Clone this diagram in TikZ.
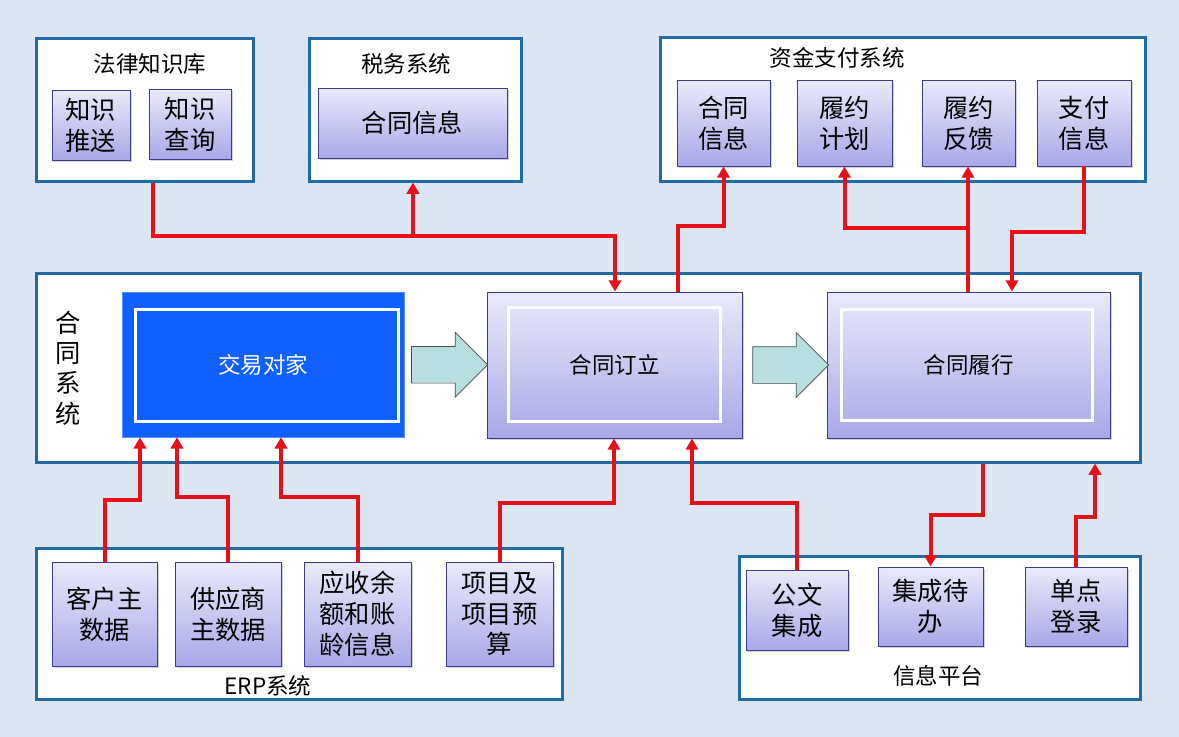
\documentclass[tikz,border=0pt]{standalone}
\usepackage{fontspec}
\setmainfont{Noto Sans CJK SC}
\usetikzlibrary{arrows.meta, positioning, shapes.arrows, shadows, calc}
\newdimen\pxu \pxu=0.025cm
\definecolor{bgblue}{HTML}{DCE6F2}
\definecolor{frameblue}{HTML}{1F6BA8}
\definecolor{itemtop}{HTML}{EAEAFA}
\definecolor{itembot}{HTML}{A9A7E8}
\definecolor{itemedge}{HTML}{3C3C8C}
\definecolor{partyblue}{HTML}{1060FF}
\definecolor{flowteal}{HTML}{B8DFE0}
\definecolor{linkred}{HTML}{E5101A}

\begin{document}
\begin{tikzpicture}[
  x=1\pxu, y=-1\pxu,
  sysframe/.style={draw=frameblue, line width=3\pxu, fill=white, inner sep=0pt},
  title/.style={font=\fontsize{16}{19}\selectfont},
  item/.style={draw=itemedge, line width=0.7pt, top color=itemtop, bottom color=itembot,
               align=center, inner sep=0pt, font=\fontsize{18}{22}\selectfont,
               drop shadow={opacity=0.35, shadow xshift=1.5pt, shadow yshift=-1.5pt}},
  stage/.style={item, font=\fontsize{16}{19}\selectfont},
  innerframe/.style={draw=white, line width=3\pxu},
  flow/.style={single arrow, draw=black!70, line width=0.5pt, fill=flowteal,
               minimum height=76\pxu, minimum width=64\pxu, inner xsep=0pt, inner ysep=18\pxu,
               single arrow head extend=14\pxu},
  link/.style={draw=linkred, line width=4\pxu, -{Triangle[length=8pt, width=8.8pt]}}
]
  \useasboundingbox[fill=bgblue] (0,0) rectangle (1179,737);

  % external systems, top row
  \node[sysframe, minimum width=217\pxu, minimum height=143\pxu] (law) at (144.5,109.5) {};
  \node[title] (lawt) at (150,64) {法律知识库};
  \node[item, minimum width=78\pxu, minimum height=70\pxu] (ksend) at (91,125) {知识\\推送};
  \node[item, minimum width=82\pxu, minimum height=70\pxu] (kquery) at (190,124) {知识\\查询};

  \node[sysframe, minimum width=212\pxu, minimum height=143\pxu] (tax) at (415,109.5) {};
  \node[title] (taxt) at (406,64) {税务系统};
  \node[item, minimum width=189\pxu, minimum height=70\pxu] (taxinfo) at (412.5,123) {合同信息};

  \node[sysframe, minimum width=485\pxu, minimum height=144\pxu] (fund) at (902.5,109) {};
  \node[title] (fundt) at (837,58) {资金支付系统};
  \node[item, minimum width=93\pxu, minimum height=86\pxu] (f1) at (723.5,123) {合同\\信息};
  \node[item, minimum width=95\pxu, minimum height=86\pxu] (f2) at (844.5,123) {履约\\计划};
  \node[item, minimum width=93\pxu, minimum height=86\pxu] (f3) at (968.5,123) {履约\\反馈};
  \node[item, minimum width=94\pxu, minimum height=86\pxu] (f4) at (1084,123) {支付\\信息};

  % contract system
  \node[sysframe, minimum width=1104\pxu, minimum height=189\pxu] (sys) at (588,367.5) {};
  \node[title, align=center, font=\fontsize{18}{21.5}\selectfont] (syst) at (68,368) {合\\同\\系\\统};
  \node[draw=partyblue!70, fill=partyblue, text=white, font=\fontsize{16}{19}\selectfont,
        minimum width=282\pxu, minimum height=145\pxu] (cp) at (263,364.5) {交易对家};
  \draw[innerframe] ([shift={(14,18)}]cp.north west) rectangle ([shift={(-6,-16)}]cp.south east);
  \node[stage, minimum width=255\pxu, minimum height=146\pxu] (sign) at (614.5,365) {合同订立};
  \draw[innerframe] ([shift={(22,16)}]sign.north west) rectangle ([shift={(-22,-17)}]sign.south east);
  \node[stage, minimum width=283\pxu, minimum height=146\pxu] (exec) at (968.5,365) {合同履行};
  \draw[innerframe] ([shift={(15,18)}]exec.north west) rectangle ([shift={(-18,-18)}]exec.south east);
  \node[flow] (a1) at ($(cp.east)!0.5!(sign.west)+(-5,0)$) {};
  \node[flow] (a2) at ($(sign.east)!0.5!(exec.west)+(-3,0)$) {};

  % ERP
  \node[sysframe, minimum width=526\pxu, minimum height=151\pxu] (erp) at (299,623.5) {};
  \node[title] (erpt) at (268,686) {ERP系统};
  \node[item, minimum width=105\pxu, minimum height=104\pxu] (e1) at (104.5,614) {客户主\\数据};
  \node[item, minimum width=106\pxu, minimum height=104\pxu] (e2) at (228,614) {供应商\\主数据};
  \node[item, minimum width=107\pxu, minimum height=104\pxu] (e3) at (357.5,614) {应收余\\额和账\\龄信息};
  \node[item, minimum width=107\pxu, minimum height=104\pxu] (e4) at (499.5,614) {项目及\\项目预\\算};

  % information platform
  \node[sysframe, minimum width=401\pxu, minimum height=143\pxu] (info) at (939.5,627.5) {};
  \node[title] (infot) at (938,676) {信息平台};
  \node[item, minimum width=102\pxu, minimum height=80\pxu] (i1) at (797,610) {公文\\集成};
  \node[item, minimum width=105\pxu, minimum height=79\pxu] (i2) at (930.5,606.5) {集成待\\办};
  \node[item, minimum width=102\pxu, minimum height=79\pxu] (i3) at (1076,606.5) {单点\\登录};

  % links
  \coordinate (j1) at (413,236);
  \coordinate (j2) at (968,228);
  \draw[link] (153,0 |- law.south) -- (153,236) -| (615,0 |- sign.north);
  \draw[link] (j1) -- (413,0 |- tax.south);
  \draw[link] (678,0 |- sign.north) -- (678,226) -| (f1.south);
  \draw[link] (968,0 |- exec.north) -- (968,0 |- f3.south);
  \draw[link] (j2) -| (f2.south);
  \draw[link] (f4.south) -- (1084,232) -| (1012,0 |- exec.north);

  \draw[link] (e1.north) -- (104.5,500) -| (140,0 |- cp.south);
  \draw[link] (e2.north) -- (228,497) -| (177,0 |- cp.south);
  \draw[link] (e3.north) -- (357.5,497) -| (281,0 |- cp.south);
  \draw[link] (e4.north) -- (499.5,503) -| (614,0 |- sign.south);
  \draw[link] (i1.north) -- (797,503) -| (692,0 |- sign.south);
  \draw[link] (983,0 |- sys.south) -- (983,515) -| (i2.north);
  \draw[link] (i3.north) -- (1076,517) -| (1095,0 |- sys.south);
\end{tikzpicture}
\end{document}
